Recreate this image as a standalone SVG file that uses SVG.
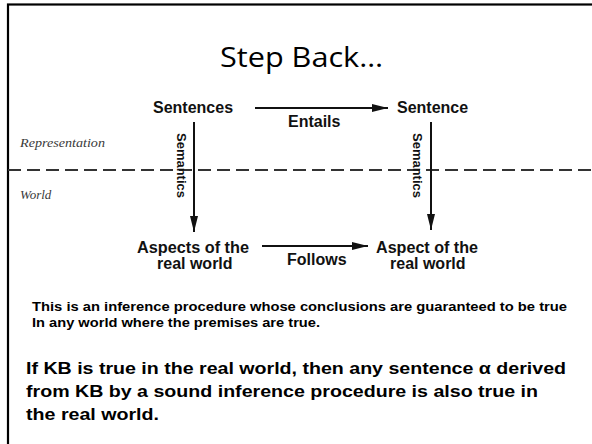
<svg xmlns="http://www.w3.org/2000/svg" width="592" height="444" viewBox="0 0 592 444">
<style>
.lbl{font-family:"Liberation Sans",Arial,sans-serif;font-weight:bold;font-size:16px;fill:#111}
.sem{font-family:"Liberation Sans",Arial,sans-serif;font-weight:bold;font-size:13.5px;fill:#111}
.zone{font-family:"Liberation Serif","Times New Roman",serif;font-style:italic;font-size:13px;fill:#3a3a3a}
.body{font-family:"Liberation Sans",Arial,sans-serif;font-weight:bold;fill:#000}
.conn{stroke:#111;stroke-width:2;fill:none}
.dash{stroke:#333;stroke-width:2;stroke-dasharray:13 6;fill:none}
</style>
<defs>
<marker id="ah" viewBox="0 0 16 8" refX="16" refY="4" markerWidth="16" markerHeight="8" markerUnits="userSpaceOnUse" orient="auto">
<path d="M0,0 L16,4 L0,8 Z" fill="#111"/>
</marker>
</defs>
<rect width="592" height="444" fill="#fff"/>
<rect x="8" y="4.5" width="620" height="480" fill="none" stroke="#000" stroke-width="2.2"/>
<text x="220" y="67" font-family="'Open Sans','Noto Sans',sans-serif" font-size="28" textLength="163" lengthAdjust="spacingAndGlyphs" fill="#000">Step Back…</text>
<line class="dash" x1="8" y1="170" x2="592" y2="170"/>
<text class="zone" x="20" y="147" textLength="85" lengthAdjust="spacingAndGlyphs">Representation</text>
<text class="zone" x="20" y="199">World</text>
<g id="sentences"><text class="lbl" x="153" y="113">Sentences</text></g>
<g id="sentence"><text class="lbl" x="397" y="113">Sentence</text></g>
<g id="aspects">
<text class="lbl" x="137" y="253" textLength="112" lengthAdjust="spacingAndGlyphs">Aspects of the</text>
<text class="lbl" x="157" y="269">real world</text>
</g>
<g id="aspect">
<text class="lbl" x="376" y="253" textLength="102" lengthAdjust="spacingAndGlyphs">Aspect of the</text>
<text class="lbl" x="390" y="269">real world</text>
</g>
<g id="connectors">
<line class="conn" x1="255" y1="108" x2="388" y2="108" marker-end="url(#ah)"/>
<line class="conn" x1="262" y1="246" x2="368" y2="246" marker-end="url(#ah)"/>
<line class="conn" x1="194" y1="122" x2="194" y2="232" marker-end="url(#ah)"/>
<line class="conn" x1="431" y1="122" x2="431" y2="230" marker-end="url(#ah)"/>
<text class="lbl" x="288" y="127">Entails</text>
<text class="lbl" x="287" y="265">Follows</text>
<text class="sem" transform="translate(177,133) rotate(90)" textLength="65" lengthAdjust="spacingAndGlyphs">Semantics</text>
<text class="sem" transform="translate(413,133) rotate(90)" textLength="65" lengthAdjust="spacingAndGlyphs">Semantics</text>
</g>
<text class="body" font-size="12.5" x="32" y="311" textLength="535" lengthAdjust="spacingAndGlyphs">This is an inference procedure whose conclusions are guaranteed to be true</text>
<text class="body" font-size="12.5" x="32" y="327" textLength="288" lengthAdjust="spacingAndGlyphs">In any world where the premises are true.</text>
<text class="body" font-size="16" x="26" y="374" textLength="540" lengthAdjust="spacingAndGlyphs">If KB is true in the real world, then any sentence α derived</text>
<text class="body" font-size="16" x="26" y="397" textLength="512" lengthAdjust="spacingAndGlyphs">from KB by a sound inference procedure is also true in</text>
<text class="body" font-size="16" x="26" y="420" textLength="133" lengthAdjust="spacingAndGlyphs">the real world.</text>
</svg>
